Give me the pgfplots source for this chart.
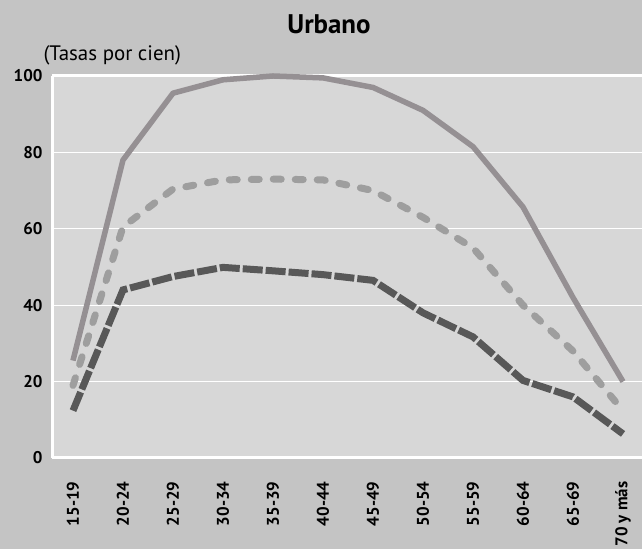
\documentclass[border=0pt]{standalone}
\usepackage{pgfplots}
\pgfplotsset{compat=1.18}
\usepackage{fontspec}
\setmainfont{PT Sans}
\definecolor{outerbg}{HTML}{C4C4C4}
\definecolor{innerbg}{HTML}{D7D7D7}
\definecolor{solidc}{HTML}{959093}
\definecolor{lightc}{HTML}{9E9E9E}
\definecolor{darkc}{HTML}{585858}
\begin{document}
\begin{tikzpicture}[x=1bp,y=1bp]
\fill[outerbg] (0,0) rectangle (642,549);
\useasboundingbox (0,0) rectangle (642,549);
\begin{axis}[
  at={(52bp,91bp)}, anchor=south west,
  scale only axis, width=590bp, height=382bp,
  xmin=-0.42, xmax=11.38, ymin=0, ymax=100,
  axis background/.style={fill=innerbg},
  axis line style={draw=none},
  ytick={0,20,40,60,80,100},
  xtick={0,...,11},
  xticklabels={15-19,20-24,25-29,30-34,35-39,40-44,45-49,50-54,55-59,60-64,65-69,70 y más},
  x tick label style={rotate=90, anchor=east, font=\fontsize{17}{19}\selectfont\bfseries},
  y tick label style={font=\fontsize{17}{19}\selectfont\bfseries},
  /pgf/number format/assume math mode=true,
  major tick length=0pt,
  ymajorgrids, grid style={white, line width=1.2bp},
  xticklabel shift=20bp, yticklabel shift=6bp,
  clip=false,
]
\draw[white, line width=3bp] (axis cs:-0.42,100) -- (axis cs:11.38,100);
\draw[white, line width=3bp] (axis cs:-0.42,0) -- (axis cs:11.38,0);
\draw[white, line width=3bp] (axis cs:-0.42,0) -- (axis cs:-0.42,100);
\addplot[solidc, line width=5.5bp, line join=round] coordinates {
(0,25.5) (1,78) (2,95.5) (3,99) (4,100) (5,99.5) (6,97) (7,91) (8,81.5) (9,65.7) (10,42) (11,20)};
\addplot[lightc, line width=7bp, line cap=round, dash pattern=on 8bp off 14bp] coordinates {
(0,19) (1,60.5) (2,70.4) (3,72.8) (4,73) (5,72.8) (6,70) (7,63) (8,55) (9,40) (10,28) (11,12.4)};
\addplot[darkc, line width=7bp, dash pattern=on 20bp off 3bp] coordinates {
(0,12.4) (1,44) (2,47.5) (3,49.9) (4,49) (5,48) (6,46.5) (7,38) (8,31.7) (9,20.3) (10,16) (11,6.3)};
\end{axis}
\node[anchor=base west, font=\fontsize{21}{24}\selectfont] at (40,488) {(Tasas por cien)};
\node[anchor=base, font=\fontsize{27}{30}\selectfont\bfseries] at (329,515) {Urbano};
\end{tikzpicture}
\end{document}
